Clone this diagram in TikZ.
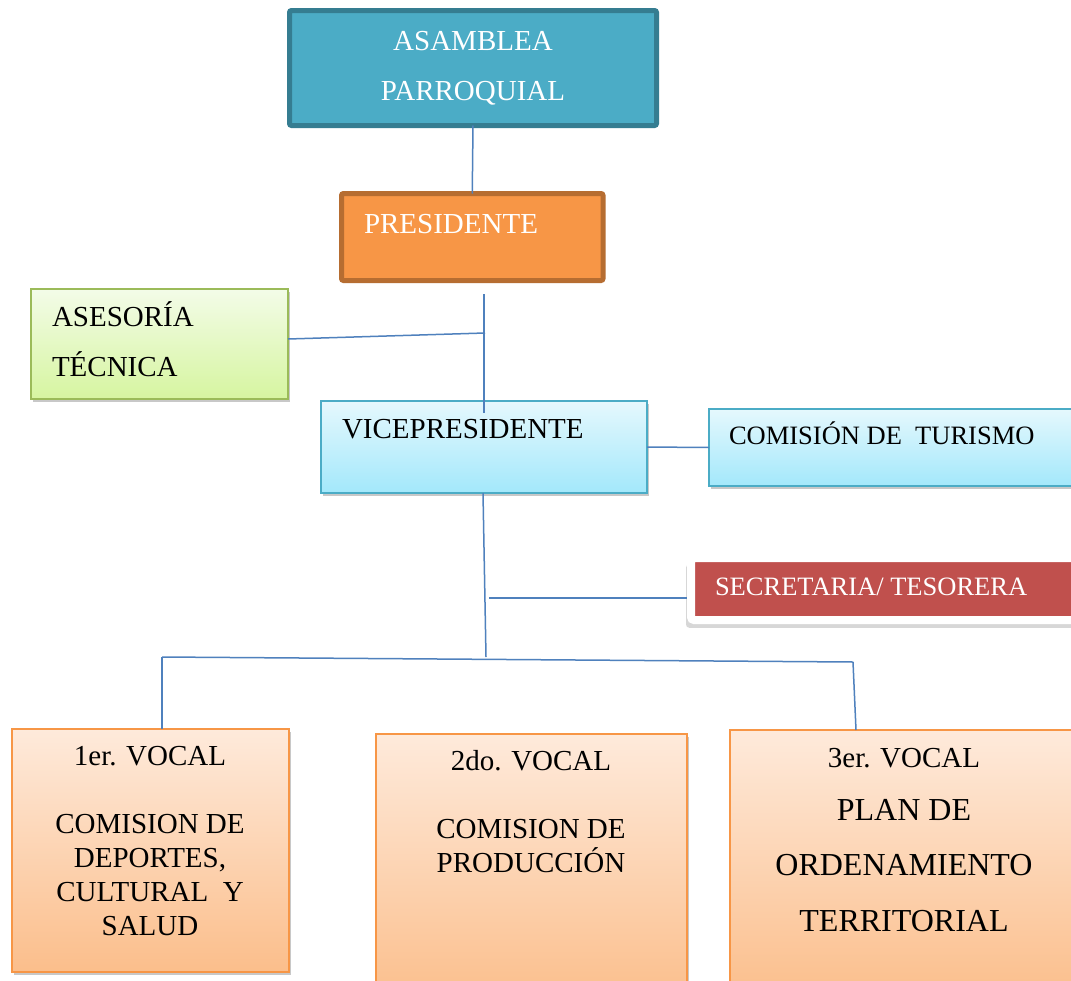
\documentclass[tikz,border=0pt]{standalone}
\usepackage{fontspec}
\setmainfont{Liberation Serif}
\usetikzlibrary{shadows}
\definecolor{asmfill}{HTML}{4BACC6}
\definecolor{asmline}{HTML}{357D91}
\definecolor{presfill}{HTML}{F79646}
\definecolor{presline}{HTML}{B66D31}
\definecolor{asestop}{HTML}{F3FCE8}
\definecolor{asesbot}{HTML}{D6F5A0}
\definecolor{asesline}{HTML}{9BBB59}
\definecolor{vicetop}{HTML}{E5F8FD}
\definecolor{vicebot}{HTML}{A3E8FB}
\definecolor{viceline}{HTML}{4BACC6}
\definecolor{secfill}{HTML}{C0504D}
\definecolor{voctop}{HTML}{FEEADB}
\definecolor{vocbot}{HTML}{FBBE8B}
\definecolor{vocline}{HTML}{F79646}
\definecolor{conn}{HTML}{4F81BD}
\begin{document}
\begin{tikzpicture}[x=1pt,y=-1pt,
  box/.style={rectangle,anchor=north west,inner sep=0pt,outer sep=0pt},
  txt/.style={inner sep=0pt,outer sep=0pt,font=\fontsize{29}{34}\selectfont},
  smalltxt/.style={inner sep=0pt,outer sep=0pt,font=\fontsize{26.5}{30}\selectfont},
  link/.style={draw=conn,line width=1.5pt},
  softshadow/.style={drop shadow={shadow xshift=2pt,shadow yshift=-3pt,opacity=0.3,fill=black!70}},
  frameshadow/.style={drop shadow={shadow xshift=-1pt,shadow yshift=-7pt,shadow scale=1.02,opacity=0.22,fill=black!70}}
]
\clip (0,0) rectangle (1071,980);
\fill[white] (0,0) rectangle (1071,980);

% boxes
\node[box,draw=asmline,fill=asmfill,line width=5pt,rounded corners=2pt,
      minimum width=367pt,minimum height=115pt] (asm) at (289.5,10.5) {};
\node[box,draw=presline,fill=presfill,line width=5pt,rounded corners=2pt,
      minimum width=261.5pt,minimum height=87pt] (pres) at (341.5,193.5) {};
\node[box,softshadow,draw=asesline,top color=asestop,bottom color=asesbot,line width=2pt,
      minimum width=257pt,minimum height=110pt] (ases) at (31,289) {};
\node[box,softshadow,draw=viceline,top color=vicetop,bottom color=vicebot,line width=2pt,
      minimum width=326pt,minimum height=92pt] (vice) at (321,401) {};
\node[box,softshadow,draw=viceline,top color=vicetop,bottom color=vicebot,line width=2pt,
      minimum width=370pt,minimum height=77pt] (tur) at (709,409) {};
\node[box,frameshadow,draw=white,fill=secfill,line width=8pt,rounded corners=3pt,
      minimum width=390pt,minimum height=62pt] (sec) at (691,558) {};
\node[box,softshadow,draw=vocline,top color=voctop,bottom color=vocbot,line width=2pt,
      minimum width=277pt,minimum height=243pt] (voc1) at (12,729) {};
\node[box,softshadow,draw=vocline,top color=voctop,bottom color=vocbot,line width=2pt,
      minimum width=311pt,minimum height=270pt] (voc2) at (376,734) {};
\node[box,softshadow,draw=vocline,top color=voctop,bottom color=vocbot,line width=2pt,
      minimum width=350pt,minimum height=270pt] (voc3) at (730,730) {};

% texts (anchor=base of a multi-line node is the last line's baseline)
\node[txt,white,anchor=base,align=center,font=\fontsize{29}{49.5}\selectfont] (asmT) at (473,100) {ASAMBLEA\\PARROQUIAL};
\node[txt,white,anchor=base west] (presT) at (364,233) {PRESIDENTE};
\node[txt,anchor=base west,align=left,font=\fontsize{29}{50}\selectfont] (asesT) at (52,376) {ASESORÍA\\TÉCNICA};
\node[txt,anchor=base west] (viceT) at (342,438) {VICEPRESIDENTE};
\node[smalltxt,anchor=base west] (turT) at (729,444) {COMISIÓN DE\ \ TURISMO};
\node[smalltxt,white,anchor=base west] (secT) at (715,595) {SECRETARIA/ TESORERA};
\node[txt,anchor=base,align=center] (voc1T) at (150,935) {1er. VOCAL\\[34pt]COMISION DE\\DEPORTES,\\CULTURAL\ \ Y\\SALUD};
\node[txt,anchor=base,align=center] (voc2T) at (531,872) {2do. VOCAL\\[34pt]COMISION DE\\PRODUCCIÓN};
\node[txt,anchor=base] (voc3T) at (904,767) {3er. VOCAL};
\node[txt,anchor=base,align=center,font=\fontsize{32}{55.5}\selectfont] (voc3B) at (904,931) {PLAN DE\\ORDENAMIENTO\\TERRITORIAL};

% junction coordinates
\coordinate (t1) at (484,294);
\coordinate (j1) at (485,333);
\coordinate (t2) at (484,413);
\coordinate (bm) at (486,657);
\coordinate (s1) at (489,598);
\coordinate (bl) at (162,657);
\coordinate (br) at (853,662);
\coordinate (r3) at (856,730);

% connectors
\draw[link] (asm.south) -- (pres.north);
\draw[link] (t1) -- (t2);
\draw[link] ([yshift=5pt]ases.east) -- (j1);
\draw[link] (vice.east) -- (tur.west);
\draw[link] ([xshift=-1pt]vice.south) -- (bm);
\draw[link] (s1) -- ([shift={(-4pt,-9pt)}]sec.west);
\draw[link] (bl) -- (br);
\draw[link] (bl) -- (bl |- voc1.north);
\draw[link] (br) -- (r3);
\end{tikzpicture}
\end{document}
